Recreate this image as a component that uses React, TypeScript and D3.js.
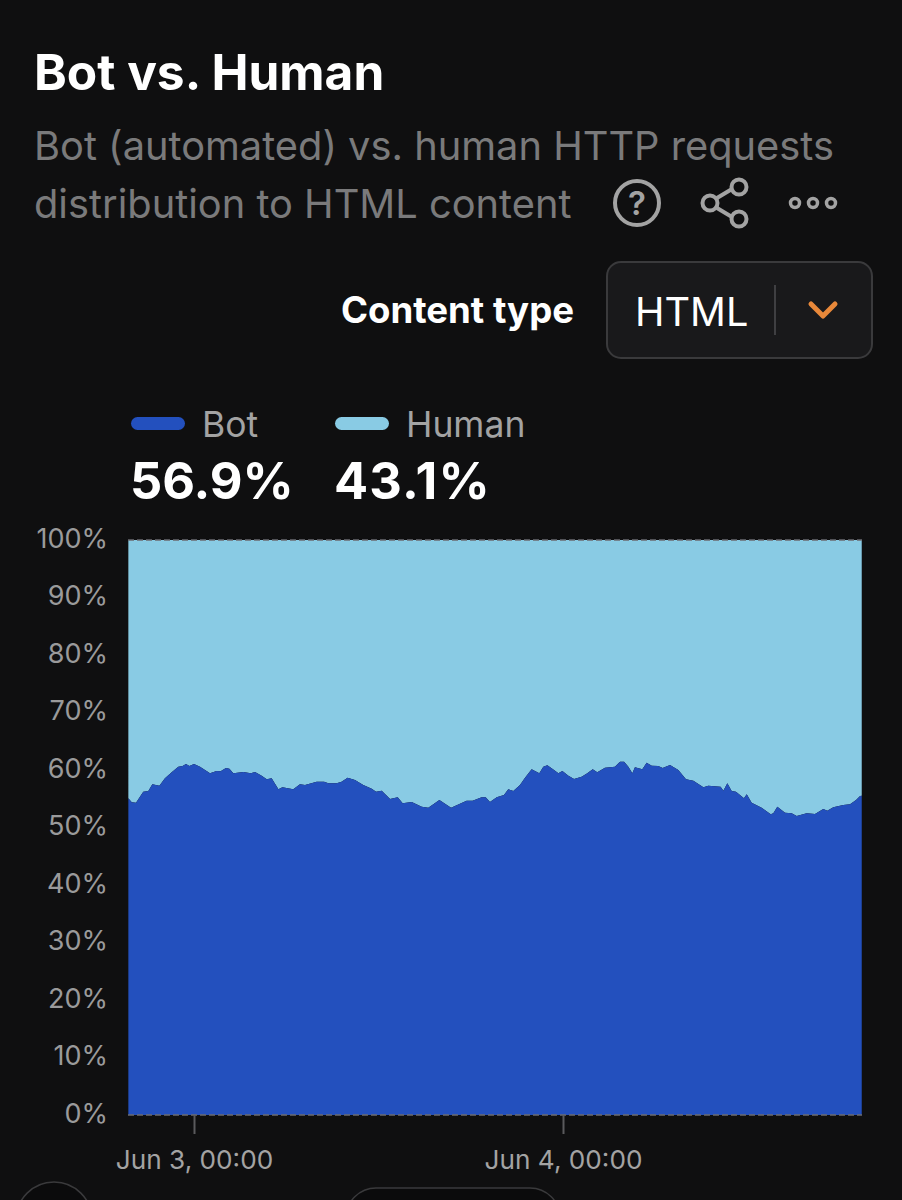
import { useEffect, useRef } from 'react'
import * as d3 from 'd3'

const FONT = 'Inter, "Liberation Sans", sans-serif'

// hours since Jun 3, 00:00
const hours = [
  -4.27, -4.05, -3.77, -3.3, -2.97, -2.71, -2.25, -1.89, -1.45, -1.02, -0.74, -0.52, -0.3, 0, 0.39, 1.04, 1.47, 1.73,
  2.08, 2.3, 2.56, 3.21, 3.69, 3.97, 4.4, 4.73, 5.05, 5.49, 5.75, 6.46, 6.89, 7.22, 7.98, 8.46, 8.74, 9.28, 9.6, 9.99,
  10.47, 11.01, 11.56, 11.84, 12.21, 12.75, 13.25, 13.57, 14.16, 14.81, 15.24, 15.96, 16.72, 17.73, 18.12, 18.71, 18.97,
  19.25, 19.69, 20.16, 20.44, 20.77, 21.2, 21.53, 21.96, 22.46, 22.72, 22.98, 23.26, 23.7, 23.96, 24.35, 24.72, 25.21,
  25.58, 25.93, 26.23, 26.73, 27.38, 27.71, 27.97, 28.25, 28.51, 28.68, 29.16, 29.44, 29.77, 30.2, 30.48, 30.96, 31.5,
  32, 32.48, 33.13, 33.45, 34.25, 34.43, 34.69, 34.97, 35.25, 35.77, 35.95, 36.27, 36.92, 37.51, 37.68, 37.94, 38.44,
  38.87, 39.2, 39.85, 40.39, 40.93, 41.19, 41.58, 42.23, 42.67, 43.06, 43.32, 43.43
]

// bot share of requests in %, the human share is the rest up to 100
const botShare = [
  55.07, 54.38, 54.32, 56.23, 56.35, 57.51, 57.28, 58.55, 59.59, 60.58, 60.7, 61.04, 60.7, 61.04, 60.58, 59.42, 59.83,
  59.77, 60.35, 60.23, 59.42, 59.65, 59.42, 59.65, 59.01, 58.38, 58.55, 56.64, 56.99, 56.64, 57.51, 57.39, 57.97, 57.97,
  57.68, 57.68, 57.97, 58.67, 58.26, 57.39, 56.75, 56.23, 56.41, 54.96, 55.25, 54.2, 54.43, 53.62, 53.45, 54.78, 53.45,
  54.67, 54.67, 55.25, 55.25, 54.43, 55.25, 55.65, 56.64, 56.35, 57.39, 58.67, 60.12, 59.42, 60.58, 60.81, 60.29, 59.42,
  59.83, 59.01, 58.43, 58.84, 59.42, 60.12, 59.59, 60.41, 60.58, 61.45, 61.45, 60.58, 59.42, 60.46, 60.12, 61.28, 60.75,
  60.7, 60.35, 60.87, 60, 58.38, 58.14, 56.99, 57.28, 57.1, 56.41, 57.68, 56.35, 56.23, 55.07, 55.77, 54.32, 53.45, 52.29,
  52.46, 53.62, 52.58, 52.46, 52, 52.46, 52.35, 53.22, 52.93, 53.51, 53.91, 54.03, 54.78, 55.48, 55.54
]

const yTicks = [0, 10, 20, 30, 40, 50, 60, 70, 80, 90, 100]
const xTicks = [0, 24]
const xTickLabels = ['Jun 3, 00:00', 'Jun 4, 00:00']
const legendNames = ['Bot', 'Human']
const legendValues = ['56.9%', '43.1%']
const legendColors = ['#2350be', '#89cbe4']

export default function App() {
  const svgRef = useRef<SVGSVGElement>(null)

  useEffect(() => {
    if (!svgRef.current) return
    const svg = d3.select(svgRef.current)
    svg.selectAll('*').remove()

    const width = 902
    const height = 1200
    const plot = { left: 128, right: 862, top: 540, bottom: 1115 }

    svg.append('rect').attr('width', width).attr('height', height).attr('fill', '#0f0f10')

    const text = (x: number, y: number, s: string, size: number, fill: string, weight = 400, anchor = 'start') =>
      svg.append('text')
        .attr('x', x)
        .attr('y', y)
        .attr('font-family', FONT)
        .attr('font-size', size)
        .attr('font-weight', weight)
        .attr('fill', fill)
        .attr('text-anchor', anchor)
        .text(s)

    // Header
    text(34, 90, 'Bot vs. Human', 49.6, '#ffffff', 700)
    text(34, 160, 'Bot (automated) vs. human HTTP requests', 39.8, '#7a7a7b')
    text(34, 218, 'distribution to HTML content', 39.8, '#7a7a7b')

    // Help icon
    const icons = svg.append('g').attr('fill', 'none').attr('stroke', '#a3a3a3').attr('stroke-width', 4)
    icons.append('circle').attr('cx', 637).attr('cy', 203).attr('r', 22)
    text(637, 215, '?', 33, '#a3a3a3', 600, 'middle')

    // Share icon
    icons.append('path').attr('d', 'M717 198 L 732 189 M 717 208 L 732 217')
    icons.append('circle').attr('cx', 710).attr('cy', 203).attr('r', 7.5)
    icons.append('circle').attr('cx', 739).attr('cy', 187).attr('r', 7.5)
    icons.append('circle').attr('cx', 739).attr('cy', 219).attr('r', 7.5)

    // More icon
    ;[795, 813, 831].forEach(cx => {
      icons.append('circle').attr('cx', cx).attr('cy', 203).attr('r', 4.5).attr('stroke-width', 3.5)
    })

    // Content type selector
    text(574, 323, 'Content type', 36.6, '#ffffff', 700, 'end')
    svg.append('rect')
      .attr('x', 607).attr('y', 262).attr('width', 265).attr('height', 96).attr('rx', 14)
      .attr('fill', '#19191b').attr('stroke', '#3a3a3c').attr('stroke-width', 2)
    text(635, 326, 'HTML', 39.7, '#ffffff')
    svg.append('line')
      .attr('x1', 775).attr('x2', 775).attr('y1', 285).attr('y2', 335)
      .attr('stroke', '#3f3f42').attr('stroke-width', 2)
    svg.append('path')
      .attr('d', 'M811 304 L 823 316 L 835 304')
      .attr('fill', 'none').attr('stroke', '#e8883a').attr('stroke-width', 5).attr('stroke-linecap', 'round').attr('stroke-linejoin', 'round')

    // Legend
    const legendX = [130, 334]
    const legendSpacing = [0, 1.2]
    legendNames.forEach((name, i) => {
      svg.append('rect')
        .attr('x', legendX[i] + 1).attr('y', 417).attr('width', 54).attr('height', 13).attr('rx', 6.5)
        .attr('fill', legendColors[i])
      text(legendX[i] + 72, 437, name, 35.5, '#a3a3a3')
      text(legendX[i], 499, legendValues[i], 50.5, '#ffffff', 700)
        .attr('letter-spacing', legendSpacing[i])
    })

    // Scales
    const xScale = d3.scaleLinear()
      .domain([0, 24])
      .range([194, 563])
    const yScale = d3.scaleLinear()
      .domain([0, 100])
      .range([plot.bottom, plot.top])

    const indices = d3.range(hours.length)

    const humanArea = d3.area<number>()
      .x(i => xScale(hours[i]))
      .y0(i => yScale(botShare[i]))
      .y1(() => yScale(100))
    const botArea = d3.area<number>()
      .x(i => xScale(hours[i]))
      .y0(() => yScale(0))
      .y1(i => yScale(botShare[i]))

    svg.append('path').attr('d', humanArea(indices)).attr('fill', legendColors[1])
    svg.append('path').attr('d', botArea(indices)).attr('fill', legendColors[0])

    // Dashed lines at top and bottom of the plot
    ;[0, 100].forEach(v => {
      svg.append('line')
        .attr('x1', plot.left).attr('x2', plot.right)
        .attr('y1', yScale(v)).attr('y2', yScale(v))
        .attr('stroke', '#6b6b70').attr('stroke-width', 1.5).attr('stroke-dasharray', '6 3')
    })

    // Axes
    const yAxis = d3.axisLeft(yScale)
      .tickValues(yTicks)
      .tickSize(0)
      .tickPadding(20)
      .tickFormat(d => `${d}%`)
    const yG = svg.append('g').attr('transform', `translate(${plot.left},0)`).call(yAxis)
    yG.select('.domain').remove()
    yG.selectAll('text')
      .attr('font-family', FONT).attr('font-size', 27).attr('fill', '#9a9a9b').attr('dy', '0.27em')

    const xAxis = d3.axisBottom(xScale)
      .tickValues(xTicks)
      .tickSize(19)
      .tickPadding(16)
      .tickFormat((_, i) => xTickLabels[i])
    const xG = svg.append('g').attr('transform', `translate(0,${plot.bottom})`).call(xAxis)
    xG.select('.domain').remove()
    xG.selectAll('line').attr('stroke', '#5a5a5c').attr('stroke-width', 2)
    xG.selectAll('text')
      .attr('font-family', FONT).attr('font-size', 26.2).attr('fill', '#a3a3a3')

    // Cut off controls at the bottom edge
    svg.append('circle')
      .attr('cx', 54).attr('cy', 1220).attr('r', 38)
      .attr('fill', '#0b0b0c').attr('stroke', '#3a3a3c').attr('stroke-width', 1.5)
    svg.append('rect')
      .attr('x', 346).attr('y', 1188).attr('width', 214).attr('height', 60).attr('rx', 30)
      .attr('fill', '#0b0b0c').attr('stroke', '#3a3a3c').attr('stroke-width', 1.5)
  }, [])

  return (
    <svg
      ref={svgRef}
      width={902}
      height={1200}
      style={{ position: 'absolute', left: 0, top: 0, display: 'block' }}
    />
  )
}
